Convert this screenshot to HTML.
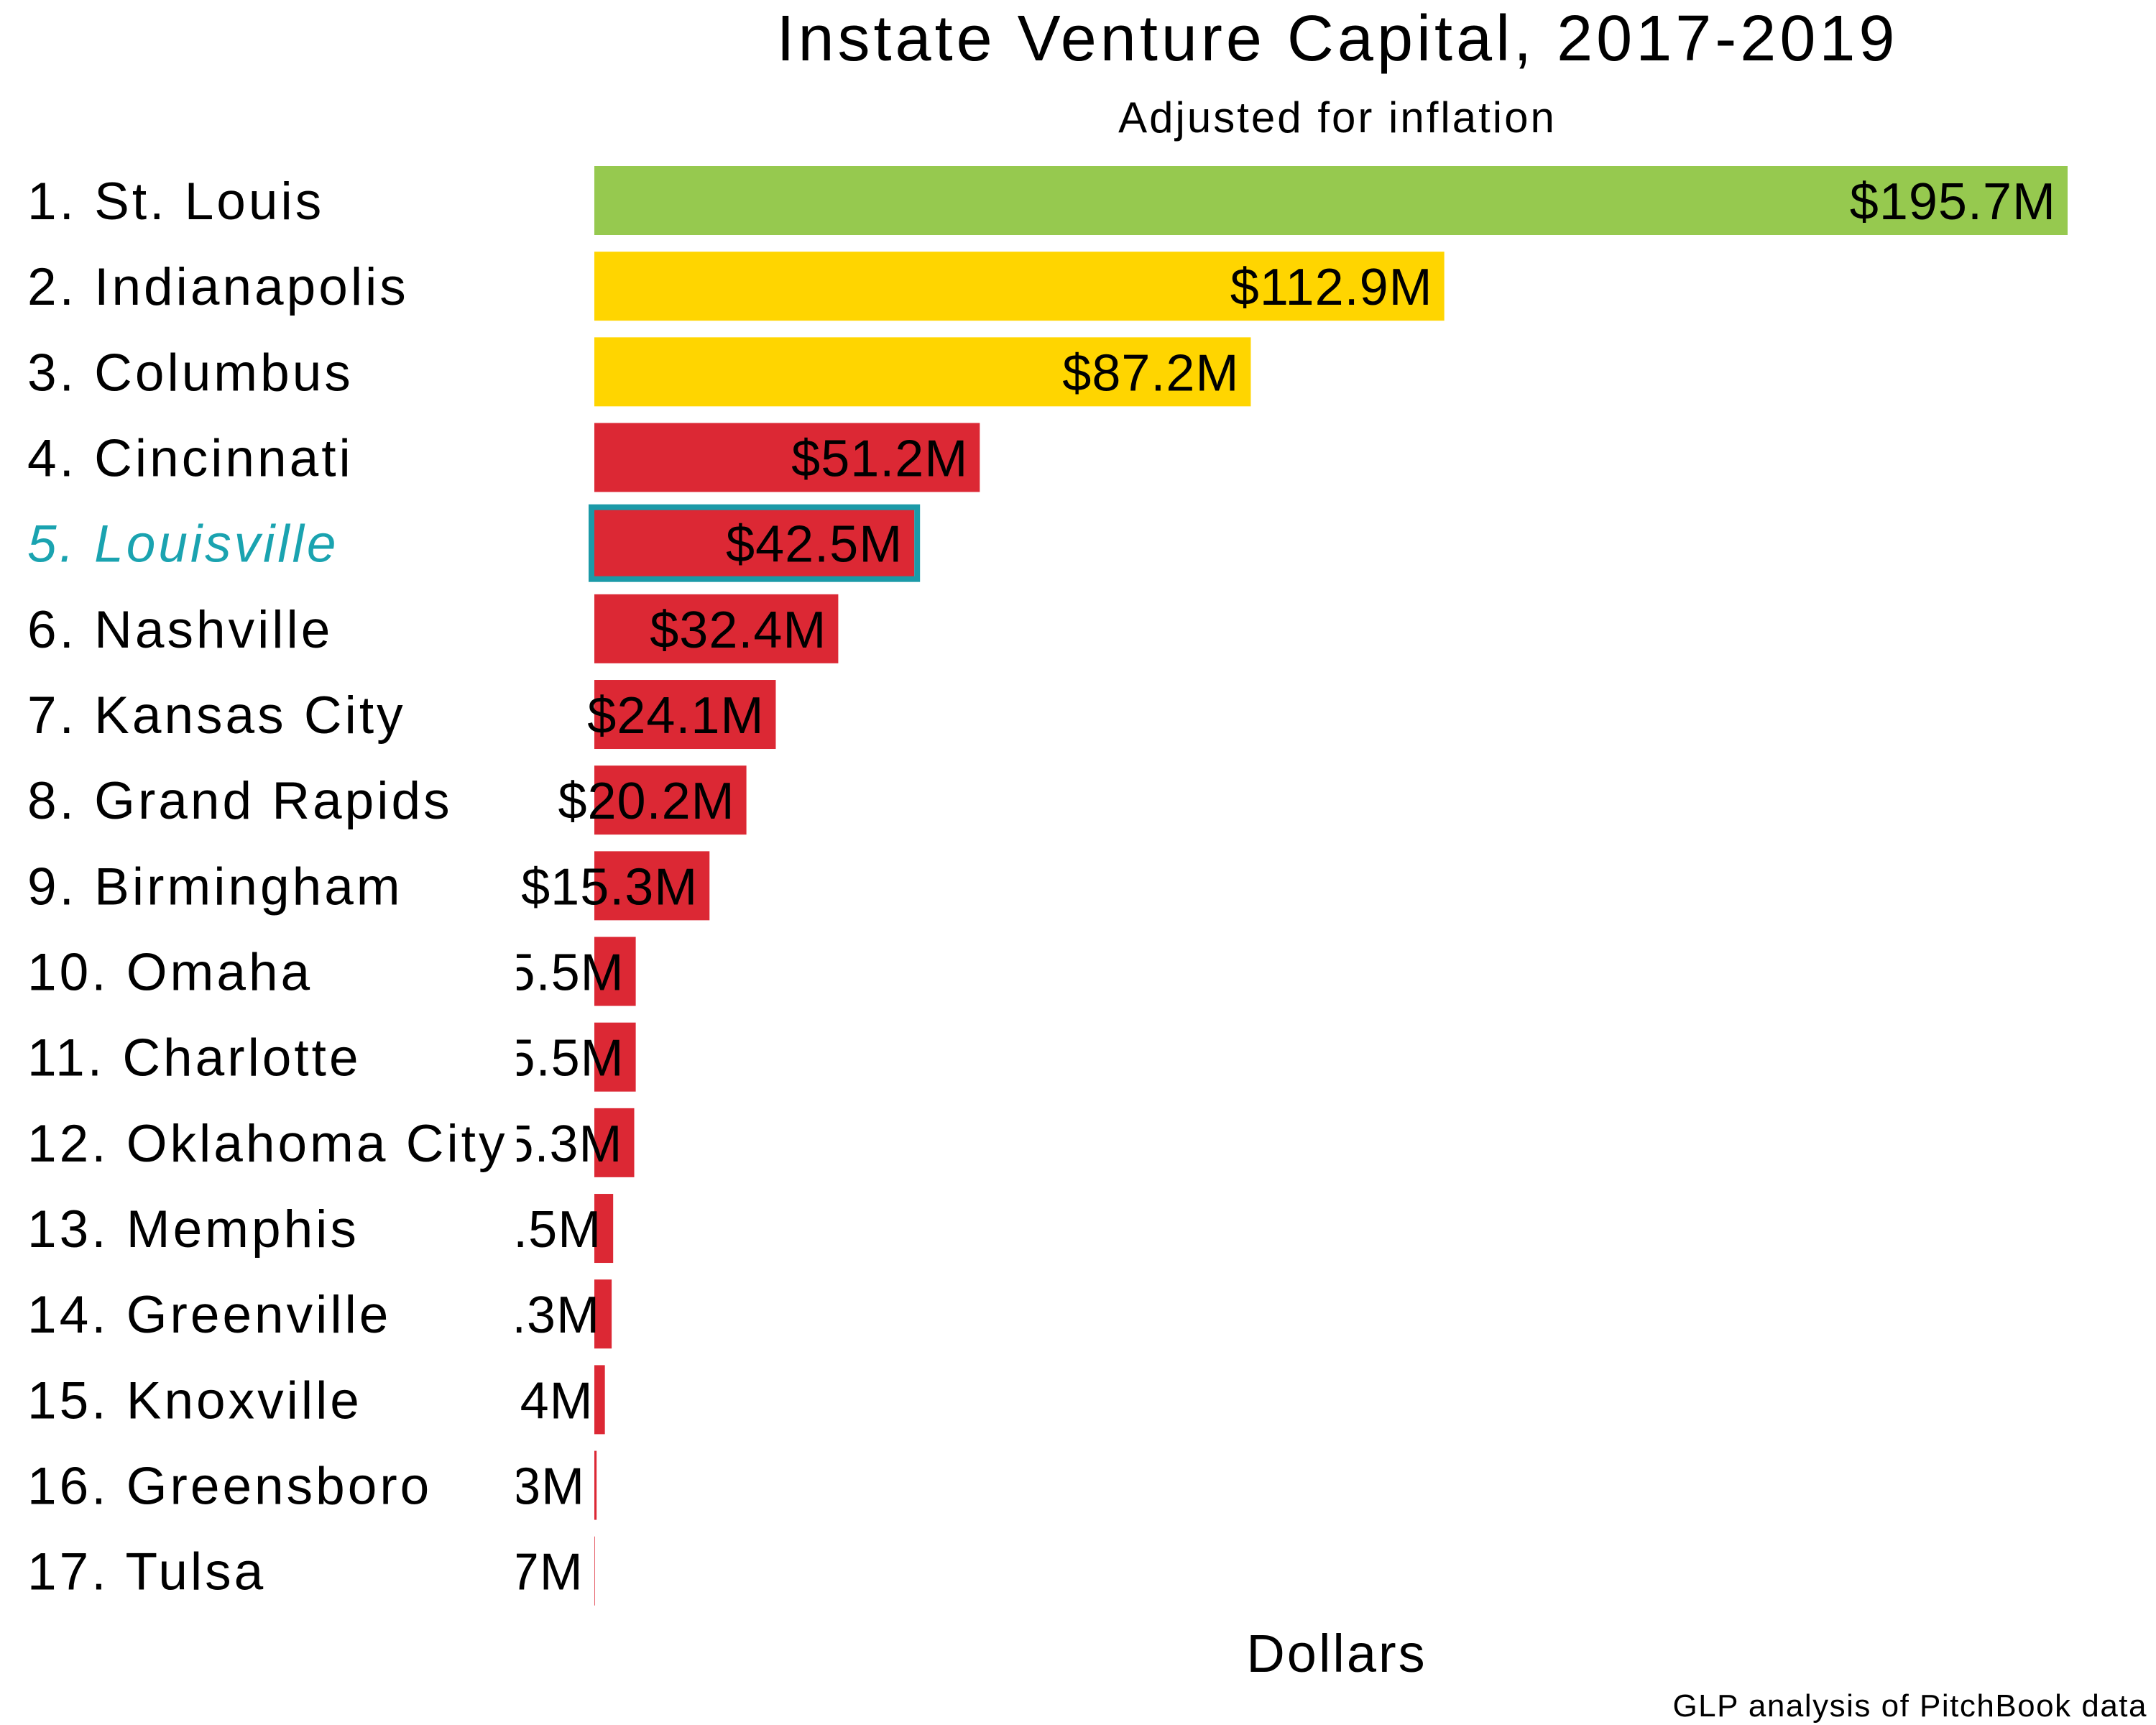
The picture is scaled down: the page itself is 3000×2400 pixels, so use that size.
<!DOCTYPE html>
<html><head><meta charset="utf-8"><style>
html,body{margin:0;padding:0;background:#fff;}
svg{display:block;font-family:"Liberation Sans",sans-serif;}
</style></head><body>
<svg id="chart" width="3000" height="2400" viewBox="0 0 3000 2400" xmlns="http://www.w3.org/2000/svg">
<defs><clipPath id="valclip"><rect x="719" y="0" width="2281" height="2400"/></clipPath></defs>
<text x="1861" y="84" font-size="90" letter-spacing="5" text-anchor="middle">Instate Venture Capital, 2017-2019</text>
<text x="1861" y="184" font-size="60" letter-spacing="3" text-anchor="middle">Adjusted for inflation</text>
<g id="bars"></g>
<text x="1860" y="2326" font-size="74" letter-spacing="3" text-anchor="middle">Dollars</text>
<text x="2988" y="2388" font-size="44" letter-spacing="1.5" text-anchor="end">GLP analysis of PitchBook data</text>
</svg>
<script>
const cities = ["St. Louis","Indianapolis","Columbus","Cincinnati","Louisville","Nashville","Kansas City","Grand Rapids","Birmingham","Omaha","Charlotte","Oklahoma City","Memphis","Greenville","Knoxville","Greensboro","Tulsa"];
const values = [195.7,112.9,87.2,51.2,42.5,32.4,24.1,20.2,15.3,5.5,5.5,5.3,2.5,2.3,1.4,0.3,0.07];
const valueLabels = ["$195.7M","$112.9M","$87.2M","$51.2M","$42.5M","$32.4M","$24.1M","$20.2M","$15.3M","$5.5M","$5.5M","$5.3M","$2.5M","$2.3M","$1.4M","$0.3M","$0.07M"];
const tiers = ["green","yellow","yellow","red","red","red","red","red","red","red","red","red","red","red","red","red","red"];
const highlight = "Louisville";

const colors = {green:"#96c94f",yellow:"#ffd500",red:"#dc2834"};
const x0 = 827, xMaxPx = 2877, vMax = 195.7;
const xScale = v => x0 + (v / vMax) * (xMaxPx - x0);
const yTop = i => 231 + i * 119.17;
const barH = 96;
const NS = "http://www.w3.org/2000/svg";
const g = document.getElementById("bars");
cities.forEach((c, i) => {
  const y = yTop(i), xe = xScale(values[i]);
  const r = document.createElementNS(NS, "rect");
  r.setAttribute("x", x0); r.setAttribute("y", y);
  r.setAttribute("width", Math.max(0, xe - x0)); r.setAttribute("height", barH);
  r.setAttribute("fill", colors[tiers[i]]);
  
  
  g.appendChild(r);
  if (c === highlight) {
    const h = document.createElementNS(NS, "rect");
    h.setAttribute("x", 823); h.setAttribute("y", y - 2);
    h.setAttribute("width", xe - 823 + 4); h.setAttribute("height", barH + 4);
    h.setAttribute("fill", "none"); h.setAttribute("stroke", "#1b9aa8"); h.setAttribute("stroke-width", 8);
    
    
    g.appendChild(h);
  }
  const lab = document.createElementNS(NS, "text");
  lab.setAttribute("x", 38); lab.setAttribute("y", y + barH / 2 + 26);
  lab.setAttribute("font-size", 73);
  lab.setAttribute("letter-spacing", 4);
  if (c === highlight) { lab.setAttribute("fill", "#1aa3b0"); lab.setAttribute("font-style", "italic"); }
  lab.textContent = (i + 1) + ". " + c;
  
  
  g.appendChild(lab);
  const v = document.createElementNS(NS, "text");
  v.setAttribute("x", xe - 16); v.setAttribute("y", y + barH / 2 + 26);
  v.setAttribute("font-size", 72); v.setAttribute("letter-spacing", 1); v.setAttribute("text-anchor", "end");
  v.setAttribute("clip-path", "url(#valclip)");
  v.textContent = valueLabels[i];
  
  
  g.appendChild(v);
});
</script>
</body></html>
